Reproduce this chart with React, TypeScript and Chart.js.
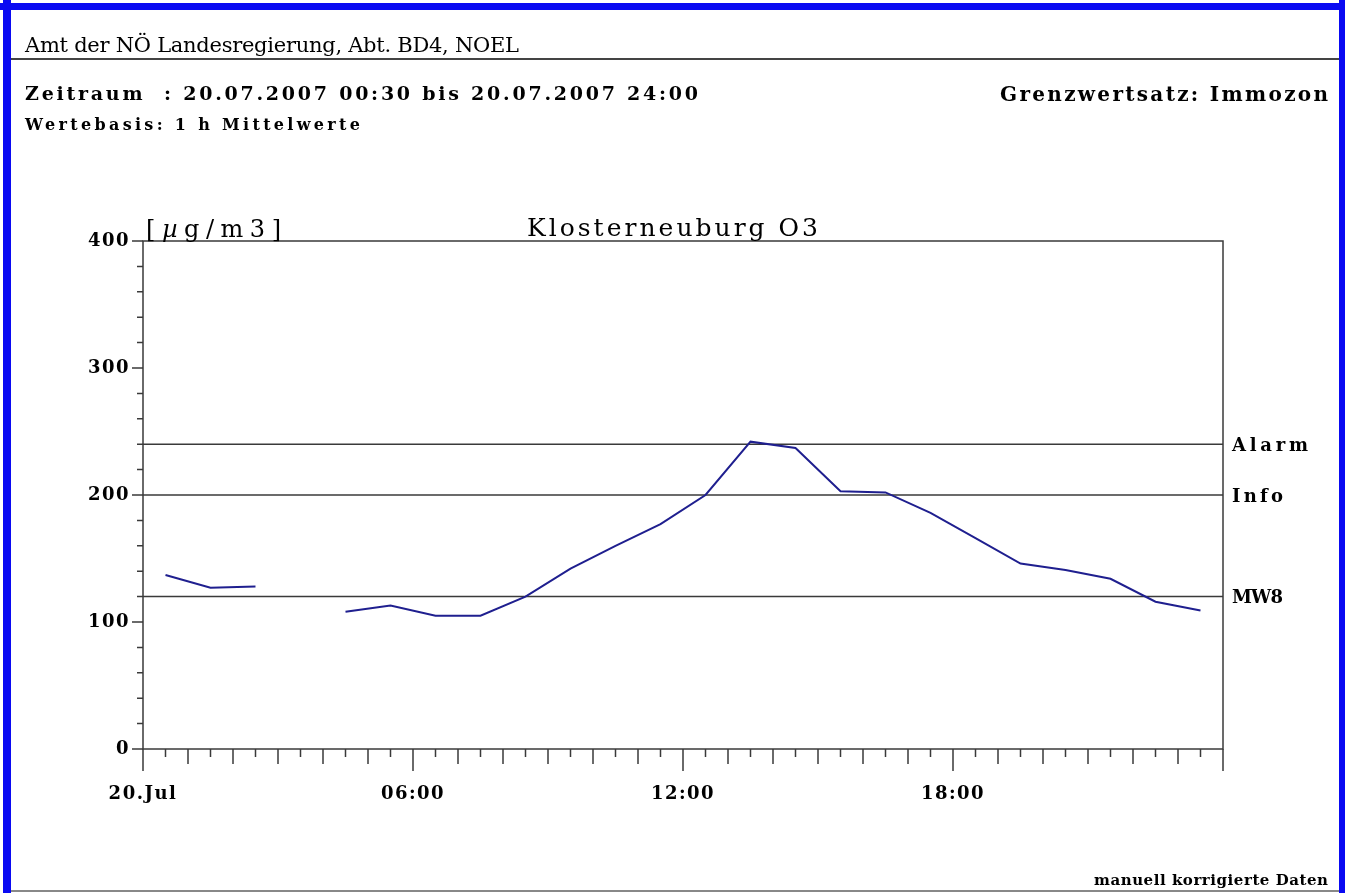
import React, { useEffect, useRef } from "react";
import { Chart, registerables } from "chart.js";

Chart.register(...registerables);

// ---------- data ----------
const hourCategories = [
  "00:30", "01:30", "02:30", "03:30", "04:30", "05:30", "06:30", "07:30",
  "08:30", "09:30", "10:30", "11:30", "12:30", "13:30", "14:30", "15:30",
  "16:30", "17:30", "18:30", "19:30", "20:30", "21:30", "22:30", "23:30",
];
const hourPositions = [
  0.5, 1.5, 2.5, 3.5, 4.5, 5.5, 6.5, 7.5, 8.5, 9.5, 10.5, 11.5,
  12.5, 13.5, 14.5, 15.5, 16.5, 17.5, 18.5, 19.5, 20.5, 21.5, 22.5, 23.5,
];
const o3Values: (number | null)[] = [
  137, 127, 128, null, 108, 113, 105, 105, 120, 142, 160, 177,
  200, 242, 237, 203, 202, 186, 166, 146, 141, 134, 116, 109,
];
const limitLabels = ["Alarm", "Info", "MW8"];
const limitValues = [240, 200, 120];
const xTickValues = [0, 6, 12, 18, 24];
const xTickLabels = ["20.Jul", "06:00", "12:00", "18:00", ""];
const yTicks = [0, 100, 200, 300, 400];

const chartTitle = "Klosterneuburg O3";
const unitLabel = "[µg/m3]";
const headerTitle = "Amt der NÖ Landesregierung, Abt. BD4, NOEL";
const periodText = "Zeitraum  : 20.07.2007 00:30 bis 20.07.2007 24:00";
const basisText = "Wertebasis: 1 h Mittelwerte";
const limitSetText = "Grenzwertsatz: Immozon";
const footerText = "manuell korrigierte Daten";

// ---------- styles ----------
const FAMILY = '"DejaVu Serif"';
const LINE_BLUE = "#1f1f8f";
const AXIS_GREY = "#3a3a3a";
const BORDER_BLUE = "#0a0af2";
const limitLabelWidths: Record<string, number> = { Alarm: 76, Info: 51, MW8: 51 };

let measureCtx: CanvasRenderingContext2D | null = null;
function getMeasure() {
  if (!measureCtx) measureCtx = document.createElement("canvas").getContext("2d");
  return measureCtx!;
}

function FitText(props: {
  text: string; left: number; baseline: number; width: number; size: number; bold?: boolean;
}) {
  const { text, left, baseline, width, size, bold } = props;
  const m = getMeasure();
  m.font = `${bold ? "bold " : ""}${size}px ${FAMILY}`;
  const w = m.measureText(text).width;
  const n = Array.from(text).length;
  const ls = n > 1 ? (width - w) / (n - 1) : 0;
  return (
    <div
      style={{
        position: "absolute",
        left,
        top: baseline - 0.846 * size,
        fontFamily: FAMILY,
        fontSize: size,
        fontWeight: bold ? "bold" : "normal",
        lineHeight: `${size}px`,
        letterSpacing: `${ls}px`,
        whiteSpace: "pre",
        color: "#000",
      }}
    >
      {text}
    </div>
  );
}

function drawFitted(
  ctx: CanvasRenderingContext2D, text: string, left: number, baseline: number,
  width: number, size: number, bold: boolean, italicChars = ""
) {
  const chars = Array.from(text);
  const fonts = chars.map((c) =>
    `${italicChars.includes(c) ? "italic " : ""}${bold ? "bold " : ""}${size}px ${FAMILY}`
  );
  const widths = chars.map((c, i) => {
    ctx.font = fonts[i];
    return ctx.measureText(c).width;
  });
  const total = widths.reduce((s, w) => s + w, 0);
  const gap = chars.length > 1 ? (width - total) / (chars.length - 1) : 0;
  let x = left;
  ctx.textAlign = "left";
  ctx.textBaseline = "alphabetic";
  ctx.fillStyle = "#000";
  chars.forEach((c, i) => {
    ctx.font = fonts[i];
    ctx.fillText(c, x, baseline);
    x += widths[i] + gap;
  });
}

const decorPlugin = {
  id: "decor",
  beforeDraw(chart: any) {
    (chart.ctx as any).letterSpacing = "1.5px";
  },
  beforeDatasetsDraw(chart: any) {
    (chart.ctx as any).letterSpacing = "0px";
  },
  afterDraw(chart: any) {
    const ctx: CanvasRenderingContext2D = chart.ctx;
    (ctx as any).letterSpacing = "0px";
    const a = chart.chartArea;
    const xs = chart.scales.x;
    const ys = chart.scales.y;
    ctx.save();
    ctx.strokeStyle = AXIS_GREY;
    ctx.lineWidth = 1.5;
    ctx.strokeRect(a.left, a.top, a.right - a.left, a.bottom - a.top);
    ctx.beginPath();
    for (let v = 0; v <= 400; v += 20) {
      const py = ys.getPixelForValue(v);
      const len = v % 100 === 0 ? 11 : 6;
      ctx.moveTo(a.left - len, py);
      ctx.lineTo(a.left, py);
    }
    for (let h = 0; h <= 24; h += 0.5) {
      const px = xs.getPixelForValue(h);
      const len = h % 6 === 0 ? 22 : h % 1 === 0 ? 15 : 8;
      ctx.moveTo(px, a.bottom);
      ctx.lineTo(px, a.bottom + len);
    }
    ctx.stroke();

    // limit labels
    limitLabels.forEach((lab, i) => {
      const py = ys.getPixelForValue(limitValues[i]);
      drawFitted(ctx, lab, a.right + 9, py + 6.5, limitLabelWidths[lab], 18, true);
    });

    // titles
    drawFitted(ctx, chartTitle, 527, a.top - 5, 291, 25, false);
    drawFitted(ctx, unitLabel, a.left + 3, a.top - 4, 135, 24, false, "µ");
    ctx.restore();
  },
};

function ChartCanvas() {
  const ref = useRef<HTMLCanvasElement | null>(null);
  useEffect(() => {
    if (!ref.current) return;
    const tickFont = { family: "DejaVu Serif", weight: "bold" as const, size: 18 };
    const chart = new Chart(ref.current, {
      type: "line",
      data: {
        labels: hourCategories,
        datasets: [
          {
            label: "O3",
            data: hourPositions.map((h, i) => ({ x: h, y: o3Values[i] as any })),
            borderColor: LINE_BLUE,
            borderWidth: 2,
            pointRadius: 0,
            spanGaps: false,
            tension: 0,
            order: 0,
          },
          ...limitValues.map((v, i) => ({
            label: limitLabels[i],
            data: [{ x: 0, y: v }, { x: 24, y: v }],
            borderColor: AXIS_GREY,
            borderWidth: 1.5,
            pointRadius: 0,
            tension: 0,
            order: 1,
          })),
        ],
      },
      options: {
        responsive: false,
        animation: false,
        devicePixelRatio: 1,
        layout: { padding: { left: 83, right: 122, top: 241, bottom: 84 } },
        plugins: { legend: { display: false }, tooltip: { enabled: false }, title: { display: false } },
        scales: {
          x: {
            type: "linear",
            min: 0,
            max: 24,
            afterFit: (s: any) => { s.height = 60; },
            afterBuildTicks: (s: any) => { s.ticks = xTickValues.map((v) => ({ value: v })); },
            grid: { display: false, drawTicks: false },
            border: { display: false },
            ticks: {
              autoSkip: false,
              maxRotation: 0,
              padding: 35,
              font: tickFont,
              color: "#000",
              callback: (v: any) => {
                const i = xTickValues.indexOf(Number(v));
                return i >= 0 ? xTickLabels[i] : "";
              },
            },
          },
          y: {
            min: 0,
            max: 400,
            afterFit: (s: any) => { s.width = 60; },
            afterBuildTicks: (s: any) => { s.ticks = yTicks.map((v) => ({ value: v })); },
            grid: { display: false, drawTicks: false },
            border: { display: false },
            ticks: { padding: 13, font: tickFont, color: "#000" },
          },
        },
      },
      plugins: [decorPlugin],
    });
    return () => chart.destroy();
  }, []);
  return (
    <canvas
      ref={ref}
      width={1345}
      height={893}
      style={{ position: "absolute", left: 0, top: 0, width: 1345, height: 893 }}
    />
  );
}

export default function App() {
  return (
    <div
      style={{
        position: "fixed",
        left: 0,
        top: 0,
        width: 1345,
        height: 893,
        background: "#fff",
        overflow: "hidden",
      }}
    >
      <ChartCanvas />
      {/* frame */}
      <div style={{ position: "absolute", left: 3, top: 0, width: 8, height: 893, background: BORDER_BLUE }} />
      <div style={{ position: "absolute", left: 0, top: 3, width: 1345, height: 7, background: BORDER_BLUE }} />
      <div style={{ position: "absolute", left: 1339, top: 0, width: 6, height: 893, background: BORDER_BLUE }} />
      <div style={{ position: "absolute", left: 11, top: 890, width: 1328, height: 2, background: "#888" }} />
      <div style={{ position: "absolute", left: 11, top: 58, width: 1328, height: 2, background: "#444" }} />
      {/* header texts */}
      <FitText text={headerTitle} left={25} baseline={53} width={494} size={21} />
      <FitText text={periodText} left={25} baseline={100} width={673} size={19} bold />
      <FitText text={basisText} left={25} baseline={131} width={335} size={16} bold />
      <FitText text={limitSetText} left={1000} baseline={101} width={328} size={20} bold />
      <FitText text={footerText} left={1094} baseline={886} width={234} size={15} bold />
    </div>
  );
}
